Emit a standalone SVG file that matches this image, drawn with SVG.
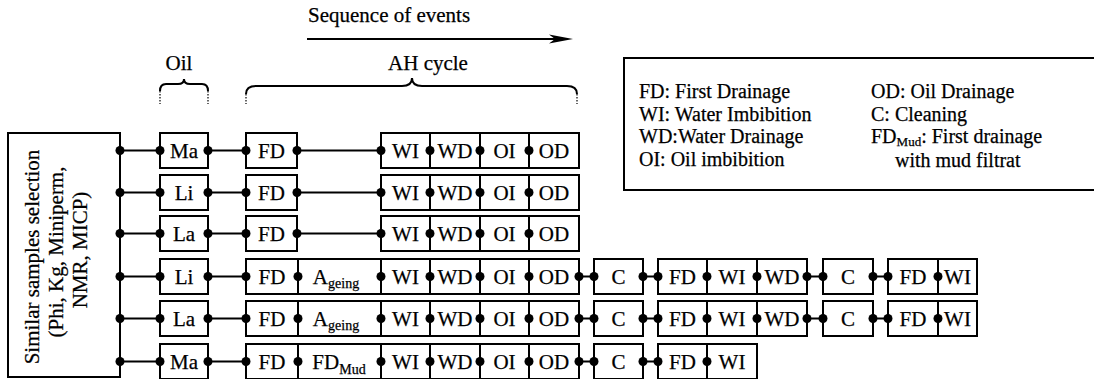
<svg xmlns="http://www.w3.org/2000/svg" width="1094" height="379" viewBox="0 0 1094 379" font-family="'Liberation Serif', 'DejaVu Serif', serif">
<style>
text{font-family:'Liberation Serif','DejaVu Serif',serif;font-size:21px;fill:#000;stroke:#000;stroke-width:0.25}
.m{text-anchor:middle}
.lg{font-size:20px}
.b{fill:#fff;stroke:#000;stroke-width:2}
.v{stroke:#000;stroke-width:2}
.c{stroke:#000;stroke-width:2;fill:none}
.d{fill:#000}
.dot{stroke:#000;stroke-width:1.2;stroke-dasharray:1.5 1.5;fill:none}
.sub{font-size:14px}
.lsub{font-size:13px}
</style>
<defs>
<circle id="p" r="4.5" class="d"/>
</defs>

<!-- header -->
<g id="sequence">
<text x="308" y="22">Sequence of events</text>
<line x1="307" y1="39" x2="556" y2="39" class="c"/>
<path d="M573,39 L549,34.5 L555,39 L549,43.5 Z" class="d"/>
</g>
<g id="oil-brace">
<text x="179" y="70" class="m">Oil</text>
<path d="M160,91 Q160,84 166,84 L178,84 Q184,84 184,79 Q184,84 190,84 L202,84 Q208,84 208,91" class="c"/>
<path d="M160,91 V104 M208,91 V104" class="dot"/>
</g>
<g id="ah-brace">
<text x="428" y="70" class="m">AH cycle</text>
<path d="M246,94 Q246,86 256,86 L402,86 Q412,86 412,78 Q412,86 422,86 L567,86 Q577,86 577,94" class="c"/>
<path d="M246,94 V104 M577,94 V104" class="dot"/>
</g>

<!-- legend -->
<g id="legend">
<rect x="624" y="58" width="472" height="132" class="b"/>
<text x="639" y="98" class="lg">FD: First Drainage</text>
<text x="639" y="120.5" class="lg">WI: Water Imbibition</text>
<text x="639" y="143" class="lg">WD:Water Drainage</text>
<text x="639" y="166" class="lg">OI: Oil imbibition</text>
<text x="871" y="98" class="lg">OD: Oil Drainage</text>
<text x="871" y="120.5" class="lg">C: Cleaning</text>
<text x="871" y="143" class="lg">FD<tspan class="lsub" dy="2.5">Mud</tspan><tspan dy="-2.5">: First drainage</tspan></text>
<text x="895" y="167" class="lg">with mud filtrat</text>
</g>

<!-- source node -->
<g id="selection">
<rect x="8" y="133" width="112" height="244" class="b"/>
<text transform="translate(39,257) rotate(-90)" class="m">Similar samples selection</text>
<text transform="translate(63,252) rotate(-90)" class="m">(Phi, Kg, Miniperm,</text>
<text transform="translate(87,250) rotate(-90)" class="m">NMR, MICP)</text>
</g>

<!-- connectors -->
<g id="connectors">
<line x1="120" y1="150.5" x2="160" y2="150.5" class="v"/>
<line x1="120" y1="192.5" x2="160" y2="192.5" class="v"/>
<line x1="120" y1="233.5" x2="160" y2="233.5" class="v"/>
<line x1="120" y1="276.5" x2="160" y2="276.5" class="v"/>
<line x1="120" y1="318.5" x2="160" y2="318.5" class="v"/>
<line x1="120" y1="361.5" x2="160" y2="361.5" class="v"/>
<line x1="208" y1="150.5" x2="246" y2="150.5" class="v"/>
<line x1="208" y1="192.5" x2="246" y2="192.5" class="v"/>
<line x1="208" y1="233.5" x2="246" y2="233.5" class="v"/>
<line x1="208" y1="276.5" x2="246" y2="276.5" class="v"/>
<line x1="208" y1="318.5" x2="246" y2="318.5" class="v"/>
<line x1="208" y1="361.5" x2="246" y2="361.5" class="v"/>
<line x1="297" y1="150.5" x2="381" y2="150.5" class="v"/>
<line x1="297" y1="192.5" x2="381" y2="192.5" class="v"/>
<line x1="297" y1="233.5" x2="381" y2="233.5" class="v"/>
<line x1="579" y1="276.5" x2="594" y2="276.5" class="v"/>
<line x1="579" y1="318.5" x2="594" y2="318.5" class="v"/>
<line x1="579" y1="361.5" x2="594" y2="361.5" class="v"/>
<line x1="643" y1="276.5" x2="658" y2="276.5" class="v"/>
<line x1="643" y1="318.5" x2="658" y2="318.5" class="v"/>
<line x1="643" y1="361.5" x2="658" y2="361.5" class="v"/>
<line x1="807" y1="276.5" x2="823" y2="276.5" class="v"/>
<line x1="807" y1="318.5" x2="823" y2="318.5" class="v"/>
<line x1="873" y1="276.5" x2="888" y2="276.5" class="v"/>
<line x1="873" y1="318.5" x2="888" y2="318.5" class="v"/>
</g>

<!-- row 1 -->
<g id="r1-oil"><rect x="160" y="133" width="48" height="35" class="b"/><text x="184" y="158" class="m">Ma</text></g>
<g id="r1-fd"><rect x="246" y="133" width="51" height="35" class="b"/><text x="271.5" y="158" class="m">FD</text></g>
<g id="r1-cycle"><rect x="381" y="133" width="198" height="35" class="b"/>
<path d="M430,133 V168 M480,133 V168 M529,133 V168" class="v"/>
<text x="405.5" y="158" class="m">WI</text><text x="455" y="158" class="m">WD</text><text x="504.5" y="158" class="m">OI</text><text x="554" y="158" class="m">OD</text></g>

<!-- row 2 -->
<g id="r2-oil"><rect x="160" y="175" width="48" height="35" class="b"/><text x="184" y="200" class="m">Li</text></g>
<g id="r2-fd"><rect x="246" y="175" width="51" height="35" class="b"/><text x="271.5" y="200" class="m">FD</text></g>
<g id="r2-cycle"><rect x="381" y="175" width="198" height="35" class="b"/>
<path d="M430,175 V210 M480,175 V210 M529,175 V210" class="v"/>
<text x="405.5" y="200" class="m">WI</text><text x="455" y="200" class="m">WD</text><text x="504.5" y="200" class="m">OI</text><text x="554" y="200" class="m">OD</text></g>

<!-- row 3 -->
<g id="r3-oil"><rect x="160" y="216" width="48" height="35" class="b"/><text x="184" y="241" class="m">La</text></g>
<g id="r3-fd"><rect x="246" y="216" width="51" height="35" class="b"/><text x="271.5" y="241" class="m">FD</text></g>
<g id="r3-cycle"><rect x="381" y="216" width="198" height="35" class="b"/>
<path d="M430,216 V251 M480,216 V251 M529,216 V251" class="v"/>
<text x="405.5" y="241" class="m">WI</text><text x="455" y="241" class="m">WD</text><text x="504.5" y="241" class="m">OI</text><text x="554" y="241" class="m">OD</text></g>

<!-- row 4 -->
<g id="r4-oil"><rect x="160" y="259" width="48" height="35" class="b"/><text x="184" y="284" class="m">Li</text></g>
<g id="r4-cycle"><rect x="246" y="259" width="333" height="35" class="b"/>
<path d="M298,259 V294 M381,259 V294 M430,259 V294 M480,259 V294 M529,259 V294" class="v"/>
<text x="272" y="284" class="m">FD</text><text x="336" y="284" class="m">A<tspan class="sub" dy="4">geing</tspan></text>
<text x="405.5" y="284" class="m">WI</text><text x="455" y="284" class="m">WD</text><text x="504.5" y="284" class="m">OI</text><text x="554" y="284" class="m">OD</text></g>
<g id="r4-c1"><rect x="594" y="259" width="49" height="35" class="b"/><text x="618.5" y="284" class="m">C</text></g>
<g id="r4-g2"><rect x="658" y="259" width="149" height="35" class="b"/>
<path d="M707,259 V294 M757,259 V294" class="v"/>
<text x="682.5" y="284" class="m">FD</text><text x="732" y="284" class="m">WI</text><text x="782" y="284" class="m">WD</text></g>
<g id="r4-c2"><rect x="823" y="259" width="50" height="35" class="b"/><text x="848" y="284" class="m">C</text></g>
<g id="r4-g3"><rect x="888" y="259" width="89" height="35" class="b"/>
<path d="M938,259 V294" class="v"/>
<text x="913" y="284" class="m">FD</text><text x="957.5" y="284" class="m">WI</text></g>

<!-- row 5 -->
<g id="r5-oil"><rect x="160" y="301" width="48" height="35" class="b"/><text x="184" y="326" class="m">La</text></g>
<g id="r5-cycle"><rect x="246" y="301" width="333" height="35" class="b"/>
<path d="M298,301 V336 M381,301 V336 M430,301 V336 M480,301 V336 M529,301 V336" class="v"/>
<text x="272" y="326" class="m">FD</text><text x="336" y="326" class="m">A<tspan class="sub" dy="4">geing</tspan></text>
<text x="405.5" y="326" class="m">WI</text><text x="455" y="326" class="m">WD</text><text x="504.5" y="326" class="m">OI</text><text x="554" y="326" class="m">OD</text></g>
<g id="r5-c1"><rect x="594" y="301" width="49" height="35" class="b"/><text x="618.5" y="326" class="m">C</text></g>
<g id="r5-g2"><rect x="658" y="301" width="149" height="35" class="b"/>
<path d="M707,301 V336 M757,301 V336" class="v"/>
<text x="682.5" y="326" class="m">FD</text><text x="732" y="326" class="m">WI</text><text x="782" y="326" class="m">WD</text></g>
<g id="r5-c2"><rect x="823" y="301" width="50" height="35" class="b"/><text x="848" y="326" class="m">C</text></g>
<g id="r5-g3"><rect x="888" y="301" width="89" height="35" class="b"/>
<path d="M938,301 V336" class="v"/>
<text x="913" y="326" class="m">FD</text><text x="957.5" y="326" class="m">WI</text></g>

<!-- row 6 -->
<g id="r6-oil"><rect x="160" y="344" width="48" height="35" class="b"/><text x="184" y="369" class="m">Ma</text></g>
<g id="r6-cycle"><rect x="246" y="344" width="333" height="35" class="b"/>
<path d="M298,344 V379 M381,344 V379 M430,344 V379 M480,344 V379 M529,344 V379" class="v"/>
<text x="272" y="369" class="m">FD</text><text x="339" y="369" class="m">FD<tspan class="sub" dy="5">Mud</tspan></text>
<text x="405.5" y="369" class="m">WI</text><text x="455" y="369" class="m">WD</text><text x="504.5" y="369" class="m">OI</text><text x="554" y="369" class="m">OD</text></g>
<g id="r6-c1"><rect x="594" y="344" width="49" height="35" class="b"/><text x="618.5" y="369" class="m">C</text></g>
<g id="r6-g2"><rect x="658" y="344" width="99" height="35" class="b"/>
<path d="M707,344 V379" class="v"/>
<text x="682.5" y="369" class="m">FD</text><text x="732" y="369" class="m">WI</text></g>

<!-- connection dots -->
<g id="dots">
<use href="#p" x="120" y="150.5"/><use href="#p" x="160" y="150.5"/><use href="#p" x="208" y="150.5"/><use href="#p" x="246" y="150.5"/><use href="#p" x="297" y="150.5"/><use href="#p" x="381" y="150.5"/><use href="#p" x="430" y="150.5"/><use href="#p" x="480" y="150.5"/><use href="#p" x="529" y="150.5"/>
<use href="#p" x="120" y="192.5"/><use href="#p" x="160" y="192.5"/><use href="#p" x="208" y="192.5"/><use href="#p" x="246" y="192.5"/><use href="#p" x="297" y="192.5"/><use href="#p" x="381" y="192.5"/><use href="#p" x="430" y="192.5"/><use href="#p" x="480" y="192.5"/><use href="#p" x="529" y="192.5"/>
<use href="#p" x="120" y="233.5"/><use href="#p" x="160" y="233.5"/><use href="#p" x="208" y="233.5"/><use href="#p" x="246" y="233.5"/><use href="#p" x="297" y="233.5"/><use href="#p" x="381" y="233.5"/><use href="#p" x="430" y="233.5"/><use href="#p" x="480" y="233.5"/><use href="#p" x="529" y="233.5"/>
<use href="#p" x="120" y="276.5"/><use href="#p" x="160" y="276.5"/><use href="#p" x="208" y="276.5"/><use href="#p" x="246" y="276.5"/><use href="#p" x="298" y="276.5"/><use href="#p" x="381" y="276.5"/><use href="#p" x="430" y="276.5"/><use href="#p" x="480" y="276.5"/><use href="#p" x="529" y="276.5"/><use href="#p" x="579" y="276.5"/><use href="#p" x="594" y="276.5"/><use href="#p" x="643" y="276.5"/><use href="#p" x="658" y="276.5"/><use href="#p" x="707" y="276.5"/><use href="#p" x="757" y="276.5"/><use href="#p" x="807" y="276.5"/><use href="#p" x="823" y="276.5"/><use href="#p" x="873" y="276.5"/><use href="#p" x="888" y="276.5"/><use href="#p" x="938" y="276.5"/>
<use href="#p" x="120" y="318.5"/><use href="#p" x="160" y="318.5"/><use href="#p" x="208" y="318.5"/><use href="#p" x="246" y="318.5"/><use href="#p" x="298" y="318.5"/><use href="#p" x="381" y="318.5"/><use href="#p" x="430" y="318.5"/><use href="#p" x="480" y="318.5"/><use href="#p" x="529" y="318.5"/><use href="#p" x="579" y="318.5"/><use href="#p" x="594" y="318.5"/><use href="#p" x="643" y="318.5"/><use href="#p" x="658" y="318.5"/><use href="#p" x="707" y="318.5"/><use href="#p" x="757" y="318.5"/><use href="#p" x="807" y="318.5"/><use href="#p" x="823" y="318.5"/><use href="#p" x="873" y="318.5"/><use href="#p" x="888" y="318.5"/><use href="#p" x="938" y="318.5"/>
<use href="#p" x="120" y="361.5"/><use href="#p" x="160" y="361.5"/><use href="#p" x="208" y="361.5"/><use href="#p" x="246" y="361.5"/><use href="#p" x="298" y="361.5"/><use href="#p" x="381" y="361.5"/><use href="#p" x="430" y="361.5"/><use href="#p" x="480" y="361.5"/><use href="#p" x="529" y="361.5"/><use href="#p" x="579" y="361.5"/><use href="#p" x="594" y="361.5"/><use href="#p" x="643" y="361.5"/><use href="#p" x="658" y="361.5"/><use href="#p" x="707" y="361.5"/>
</g>
</svg>
